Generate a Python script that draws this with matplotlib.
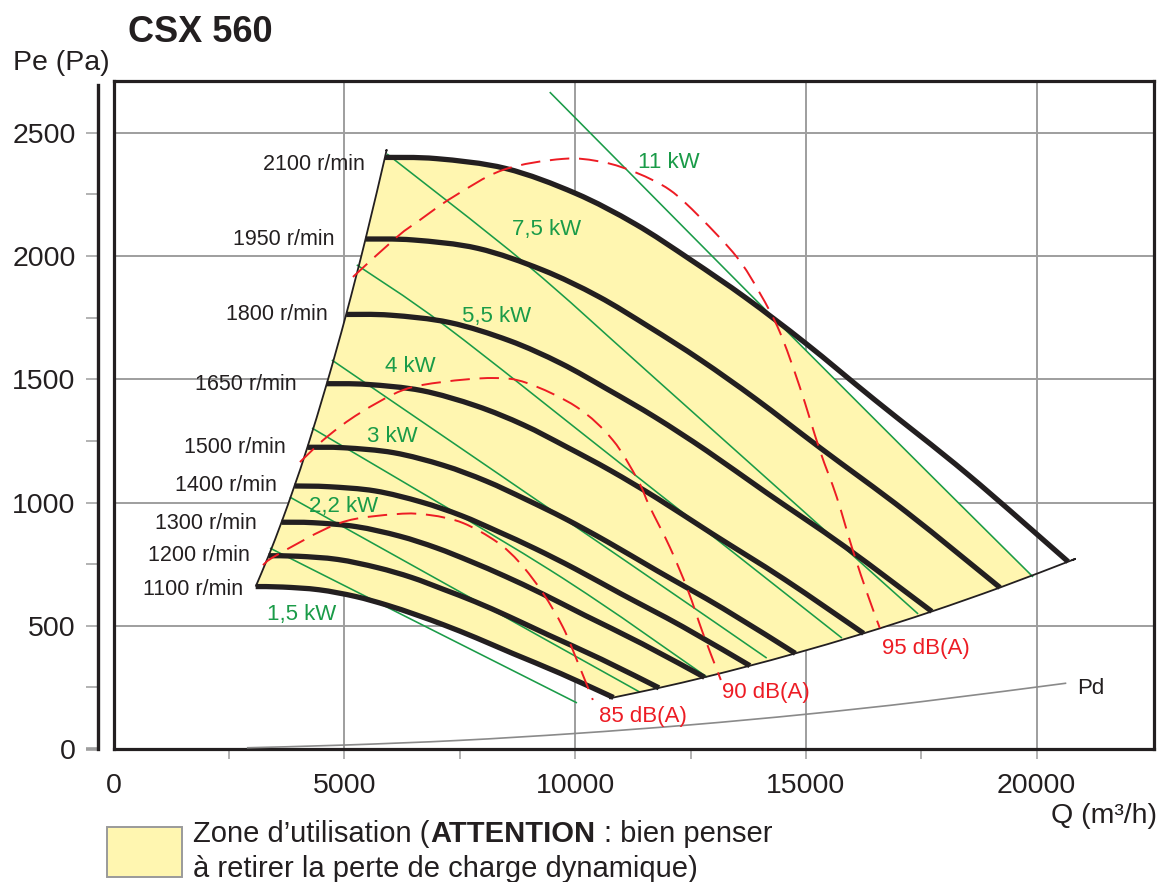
import numpy as np
import matplotlib
matplotlib.use("Agg")
import matplotlib.pyplot as plt
from matplotlib.patches import Polygon, Rectangle, PathPatch
from matplotlib.path import Path

plt.rcParams['font.family'] = ['Liberation Sans', 'DejaVu Sans']

W, H = 1161, 882

# ---------------- data ----------------
speeds = [2100, 1950, 1800, 1650, 1500, 1400, 1300, 1200, 1100]
q_2100 = [5880, 7000, 8500, 10000, 11300, 12500, 13700, 15000, 16500, 18500, 20680]
pe_2100 = [2400, 2395, 2355, 2255, 2130, 1985, 1830, 1645, 1415, 1115, 760]
q_1950 = [5460, 6500, 7893, 9286, 10493, 11607, 12721, 13929, 15321, 17179, 19203]
pe_1950 = [2069, 2065, 2031, 1944, 1837, 1712, 1578, 1418, 1220, 961, 655]
q_1800 = [5040, 6000, 7286, 8571, 9686, 10714, 11743, 12857, 14143, 15857, 17726]
pe_1800 = [1763, 1760, 1730, 1657, 1565, 1458, 1345, 1209, 1040, 819, 558]
q_1650 = [4620, 5500, 6679, 7857, 8879, 9821, 10764, 11786, 12964, 14536, 16249]
pe_1650 = [1482, 1479, 1454, 1392, 1315, 1225, 1130, 1016, 874, 688, 469]
q_1500 = [4200, 5000, 6071, 7143, 8071, 8929, 9786, 10714, 11786, 13214, 14771]
pe_1500 = [1224, 1222, 1202, 1151, 1087, 1013, 934, 839, 722, 569, 388]
q_1400 = [3920, 4667, 5667, 6667, 7533, 8333, 9133, 10000, 11000, 12333, 13787]
pe_1400 = [1067, 1064, 1047, 1002, 947, 882, 813, 731, 629, 496, 338]
q_1300 = [3640, 4333, 5262, 6190, 6995, 7738, 8481, 9286, 10214, 11452, 12802]
pe_1300 = [920, 918, 902, 864, 816, 761, 701, 630, 542, 427, 291]
q_1200 = [3360, 4000, 4857, 5714, 6457, 7143, 7829, 8571, 9429, 10571, 11817]
pe_1200 = [784, 782, 769, 736, 696, 648, 598, 537, 462, 364, 248]
q_1100 = [3080, 3667, 4452, 5238, 5919, 6548, 7176, 7857, 8643, 9690, 10832]
pe_1100 = [659, 657, 646, 619, 584, 545, 502, 451, 388, 306, 209]

# zone boundaries
q_left = [5905, 5880, 5460, 5040, 4620, 4200, 3920, 3640, 3360, 3080]
pe_left = [2425, 2400, 2069, 1763, 1482, 1224, 1067, 920, 784, 659]
q_low = [10800, 10832, 11817, 12802, 13787, 14771, 16249, 17726, 19203, 20680, 20760]
pe_low = [207, 209, 248, 291, 338, 388, 469, 558, 655, 760, 766]

# absorbed power lines
kw_names = ['1,5 kW', '2,2 kW', '3 kW', '4 kW', '5,5 kW', '7,5 kW', '11 kW']
q_1_5kw = [3390, 10040]
pe_1_5kw = [815, 187]
q_2_2kw = [3820, 11400]
pe_2_2kw = [1022, 231]
q_3kw = [4300, 9455, 12855]
pe_3kw = [1302, 726, 292]
q_4kw = [4730, 10970, 14150]
pe_4kw = [1578, 779, 369]
q_5_5kw = [5270, 7220, 10970, 15780]
pe_5_5kw = [1964, 1712, 1160, 450]
q_7_5kw = [5925, 8960, 11770, 17430]
pe_7_5kw = [2414, 1964, 1497, 548]
q_11kw = [9450, 11000, 12500, 14000, 15500, 17000, 18500, 19920]
pe_11kw = [2665, 2372, 2088, 1805, 1523, 1242, 962, 698]

# sound level arches
db_names = ['85 dB(A)', '90 dB(A)', '95 dB(A)']
q_85db = [3238, 3541, 4905, 6140, 6854, 7569, 8305, 8803, 9301, 9734, 10037, 10384]
pe_85db = [746, 787, 917, 953, 949, 917, 840, 755, 633, 495, 361, 199]
q_90db = [4039, 4623, 5338, 6269, 7135, 8218, 8954, 10037, 10817, 11358, 11618,
          12051, 12441, 12766, 13091, 13156]
pe_90db = [1164, 1266, 1363, 1456, 1489, 1505, 1485, 1387, 1253, 1091, 982,
           819, 645, 471, 312, 280]
q_95db = [5187, 6139, 6637, 7352, 8435, 9734, 10600, 11337, 12051, 12701, 13502,
          14000, 14433, 14866, 15299, 15667, 16014, 16339, 16599]
pe_95db = [1915, 2077, 2146, 2239, 2349, 2394, 2381, 2337, 2268, 2158, 1996,
           1850, 1692, 1469, 1213, 1022, 807, 625, 491]

# dynamic pressure
q_pd = [2890, 5000, 7500, 10000, 12500, 15000, 17500, 20640]
pe_pd = [5, 16, 35, 63, 98, 141, 192, 267]

x_major = [0, 5000, 10000, 15000, 20000]
x_minor = [2500, 7500, 12500, 17500]
y_major = [0, 500, 1000, 1500, 2000, 2500]
y_minor = [250, 750, 1250, 1750, 2250]

# ---------------- styles ----------------
BLACK = '#231f20'
GREEN = '#1a9b48'
RED = '#ed1c24'
GRID = '#9e9e9e'
YELLOW = '#fff6b0'


def smooth_path(q, p):
    """Smooth curve through the read points (Catmull-Rom drawn as Bezier segments)."""
    pts = np.column_stack([q, p]).astype(float)
    n = len(pts)
    if n < 3:
        return Path(pts)
    verts = [pts[0]]
    codes = [Path.MOVETO]
    for i in range(n - 1):
        p0 = pts[i - 1] if i > 0 else pts[i]
        p1 = pts[i]
        p2 = pts[i + 1]
        p3 = pts[i + 2] if i + 2 < n else pts[i + 1]
        verts += [p1 + (p2 - p0) / 6.0, p2 - (p3 - p1) / 6.0, p2]
        codes += [Path.CURVE4] * 3
    return Path(verts, codes)


def draw_curve(ax, q, p, **kw):
    patch = PathPatch(smooth_path(q, p), facecolor='none', **kw)
    ax.add_patch(patch)
    return patch


fig = plt.figure(figsize=(W / 100, H / 100), dpi=100)
ax = fig.add_axes([113.5 / W, 1 - 749 / H, (1154 - 113.5) / W, (749 - 81) / H])
ax.set_xlim(0, 22540)
ax.set_ylim(0, 2710)
ax.set_axisbelow(True)

# frame
for s in ['top', 'right', 'bottom']:
    ax.spines[s].set_linewidth(2.3)
    ax.spines[s].set_color(BLACK)
ax.spines['left'].set_position(('outward', 11.2))
ax.spines['left'].set_bounds(0, 2694)
ax.spines['left'].set_linewidth(2.4)
ax.spines['left'].set_color(BLACK)
ax.plot([0, 0], [0, 1], transform=ax.transAxes, color=BLACK, lw=2.3,
        clip_on=False, zorder=6, solid_capstyle='projecting')

ax.set_xticks(x_major)
ax.set_xticks(x_minor, minor=True)
ax.set_yticks(y_major)
ax.set_yticks(y_minor, minor=True)
ax.set_xticklabels([str(v) for v in x_major])
ax.set_yticklabels([str(v) for v in y_major])
ax.tick_params(axis='x', which='both', direction='out', length=7, width=1.1,
               color=GRID, labelsize=20.5, pad=10, labelcolor=BLACK)
ax.tick_params(axis='y', which='both', direction='out', length=8.6, width=1.1,
               color=GRID, labelsize=20.5, pad=7.5, labelcolor=BLACK)
ax.xaxis.get_major_ticks()[0].tick1line.set_visible(False)
t0 = ax.yaxis.get_major_ticks()[0]
t0.tick1line.set_color(BLACK)
t0.tick1line.set_markeredgewidth(2.6)

ax.grid(True, which='major', color=GRID, lw=1.4)

# usage zone (yellow), limited on the right by the 11 kW line
zone = (list(zip(q_1100, pe_1100)) + list(zip(q_low[1:-1], pe_low[1:-1]))
        + list(zip(q_2100[::-1], pe_2100[::-1])) + list(zip(q_left[1:], pe_left[1:])))
zone_patch = Polygon(zone, closed=True, facecolor=YELLOW, edgecolor='none', zorder=1)
ax.add_patch(zone_patch)
clip_verts = ([(0, 0), (0, 2800), (q_11kw[0], 2800)] + list(zip(q_11kw, pe_11kw))
              + [(q_11kw[-1], 0), (0, 0)])
zone_patch.set_clip_path(Path(clip_verts, closed=True), ax.transData)

# power lines
kw_lines = [(q_1_5kw, pe_1_5kw), (q_2_2kw, pe_2_2kw), (q_3kw, pe_3kw), (q_4kw, pe_4kw),
            (q_5_5kw, pe_5_5kw), (q_7_5kw, pe_7_5kw), (q_11kw, pe_11kw)]
for q, p in kw_lines:
    draw_curve(ax, q, p, edgecolor=GREEN, lw=1.15, zorder=3)

# dynamic pressure
draw_curve(ax, q_pd, pe_pd, edgecolor='#8a8a8a', lw=1.2, zorder=3)

# boundaries
draw_curve(ax, q_left, pe_left, edgecolor=BLACK, lw=1.3, zorder=4)
draw_curve(ax, q_low, pe_low, edgecolor=BLACK, lw=1.3, zorder=4)

# speed curves
curves = [(q_2100, pe_2100), (q_1950, pe_1950), (q_1800, pe_1800), (q_1650, pe_1650),
          (q_1500, pe_1500), (q_1400, pe_1400), (q_1300, pe_1300), (q_1200, pe_1200),
          (q_1100, pe_1100)]
for q, p in curves:
    draw_curve(ax, q, p, edgecolor=BLACK, lw=3.8, zorder=5, capstyle='butt',
               joinstyle='round')

# sound arches
for q, p in [(q_85db, pe_85db), (q_90db, pe_90db), (q_95db, pe_95db)]:
    draw_curve(ax, q, p, edgecolor=RED, lw=1.4, linestyle=(0, (10, 5)), zorder=6)

# ---------------- labels ----------------
speed_lbl_pos = [(5447, 2349), (4797, 2045), (4645, 1740), (3975, 1456), (3737, 1201),
                 (3542, 1047), (3108, 893), (2957, 763), (2805, 625)]
for n, (x, y) in zip(speeds, speed_lbl_pos):
    ax.text(x, y, f'{n} r/min', fontsize=15.5, color=BLACK, ha='right', va='baseline', zorder=7)

kw_lbl_pos = [(4071, 523), (4992, 961), (6042, 1245), (6423, 1529), (8306, 1732),
              (9389, 2085), (12032, 2357)]
for name, (x, y) in zip(kw_names, kw_lbl_pos):
    ax.text(x, y, name, fontsize=16, color=GREEN, ha='center', va='baseline', zorder=7)

db_lbl_pos = [(11478, 110), (14141, 207), (17606, 385)]
for name, (x, y) in zip(db_names, db_lbl_pos):
    ax.text(x, y, name, fontsize=16, color=RED, ha='center', va='baseline', zorder=7)

ax.text(20866, 223, 'Pd', fontsize=16, color=BLACK, ha='left', va='baseline')


def fx(px):
    return px / W


def fy(py):
    return 1 - py / H


fig.text(fx(128), fy(42), 'CSX 560', fontsize=26, fontweight='bold', color=BLACK,
         ha='left', va='baseline')
fig.text(fx(13), fy(70), 'Pe (Pa)', fontsize=20.5, color=BLACK, ha='left', va='baseline')
fig.text(fx(1157), fy(823), 'Q (m³/h)', fontsize=20.5, color=BLACK, ha='right', va='baseline')

# legend
fig.add_artist(Rectangle((fx(107), fy(877)), 75 / W, 50 / H, transform=fig.transFigure,
                         facecolor=YELLOW, edgecolor='#9a9a9a', lw=1.4))
renderer = fig.canvas.get_renderer()
t1 = fig.text(fx(193), fy(842), 'Zone d’utilisation (', fontsize=21, color=BLACK,
              ha='left', va='baseline')
bb = t1.get_window_extent(renderer)
t2 = fig.text(bb.x1 / W + 1 / W, fy(842), 'ATTENTION', fontsize=21, fontweight='bold',
              color=BLACK, ha='left', va='baseline')
bb2 = t2.get_window_extent(renderer)
fig.text(bb2.x1 / W + 8 / W, fy(842), ': bien penser', fontsize=21, color=BLACK,
         ha='left', va='baseline')
fig.text(fx(193), fy(877), 'à retirer la perte de charge dynamique)', fontsize=21,
         color=BLACK, ha='left', va='baseline')

fig.savefig('out.png', dpi=100)
